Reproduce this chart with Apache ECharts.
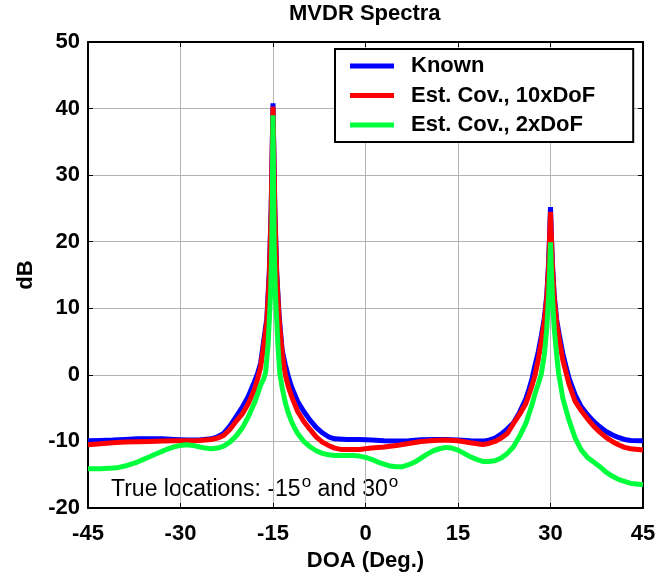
<!DOCTYPE html>
<html>
<head>
<meta charset="utf-8">
<script src="https://cdn.jsdelivr.net/npm/echarts@6/dist/echarts.min.js"></script>
<style>
  html, body { margin: 0; padding: 0; background: #fff; }
  #chart { width: 665px; height: 573px; }
</style>
</head>
<body>
<div id="chart"></div>
<script>
// DOA grid and spectra (dB)
var doaKnown = [-45, -43, -41, -39, -37, -35, -33, -31, -29, -27, -25, -24, -23, -22, -21, -20, -19, -18, -17.5, -17, -16.5, -16, -15.6, -15.3, -15.15, -15, -14.85, -14.7, -14.4, -14, -13.5, -13, -12.5, -12, -11, -10, -9, -8, -7, -6, -5, -3, -1, 1, 3, 5, 7, 9, 11, 13, 15, 17, 19, 20, 21, 22, 23, 24, 25, 26, 26.5, 27, 27.5, 28, 28.5, 29, 29.4, 29.7, 29.85, 30, 30.15, 30.3, 30.6, 31, 31.5, 32, 32.5, 33, 34, 35, 36, 37, 38, 39, 40, 41, 42, 43, 45];
var dbKnown = [-9.9, -9.85, -9.8, -9.7, -9.6, -9.6, -9.6, -9.7, -9.8, -9.8, -9.6, -9.3, -8.8, -7.7, -6.3, -4.9, -3.2, -1.0, 0.2, 1.8, 5.2, 8.5, 15.5, 25, 33, 40.8, 33, 25, 15.5, 8.8, 3.6, 1.5, -0.3, -1.8, -4.0, -5.5, -6.8, -7.9, -8.7, -9.3, -9.6, -9.7, -9.7, -9.8, -9.9, -9.95, -9.9, -9.75, -9.7, -9.7, -9.8, -9.9, -9.95, -9.8, -9.5, -8.9, -8.1, -7.2, -5.6, -3.6, -2.2, -0.6, 1.5, 3.4, 5.8, 8.5, 12, 17, 21, 25.2, 21, 17, 12, 8.3, 5.6, 3.2, 1.3, -0.5, -3.0, -4.8, -6.0, -7.0, -7.8, -8.5, -9.0, -9.4, -9.7, -9.85, -9.9];

var doaEst10 = [-45, -43, -41, -39, -37, -35, -33, -31, -29, -27, -25, -24, -23, -22, -21, -20, -19, -18, -17.5, -17, -16.5, -16, -15.6, -15.3, -15.15, -15, -14.85, -14.7, -14.4, -14, -13.5, -13, -12.5, -12, -11, -10, -9, -8, -7, -6, -5, -4, -3, -1, 1, 3, 5, 7, 9, 11, 13, 15, 17, 19, 20, 21, 22, 23, 24, 25, 26, 26.5, 27, 27.5, 28, 28.5, 29, 29.4, 29.7, 29.85, 30, 30.15, 30.3, 30.6, 31, 31.5, 32, 32.5, 33, 34, 35, 36, 37, 38, 39, 40, 41, 42, 43, 45];
var dbEst10 = [-10.5, -10.35, -10.2, -10.1, -10.05, -10.0, -9.95, -9.9, -9.9, -9.85, -9.7, -9.5, -9.1, -8.2, -7.0, -5.9, -4.3, -2.2, -0.6, 1.2, 4.5, 8, 15, 24.5, 32.5, 40.3, 32.5, 24.5, 15, 8.2, 3.2, 0, -1.8, -3.2, -5.5, -7.0, -8.2, -9.3, -10.1, -10.6, -11.0, -11.2, -11.2, -11.2, -11.0, -10.85, -10.6, -10.3, -10.0, -9.85, -9.8, -9.9, -10.2, -10.45, -10.3, -10.0, -9.5, -8.8, -7.3, -5.9, -4.3, -3.0, -1.6, 0, 2.2, 5, 8, 11.5, 16.5, 20.5, 24.5, 20.5, 16.5, 11.5, 7.8, 4.8, 2.2, 0.4, -1.4, -4.0, -5.4, -6.6, -7.7, -8.6, -9.4, -10.0, -10.5, -10.9, -11.1, -11.3];

var doaEst2 = [-45, -43, -41, -40, -39, -38, -37, -36, -35, -34, -33, -32, -31, -30, -29, -28, -27, -26, -25, -24, -23, -22, -21, -20, -19, -18, -17.5, -17, -16.5, -16.2, -15.8, -15.4, -15.2, -15.1, -15, -14.9, -14.8, -14.6, -14.2, -13.9, -13.5, -13, -12.5, -12, -11.5, -11, -10, -9, -8, -7, -6, -5, -3, -2, -1, 0, 1, 2, 3, 4, 5, 6, 7, 8, 9, 10, 11, 12, 13, 14, 15, 16, 17, 18, 19, 20, 21, 22, 23, 24, 25, 26, 26.5, 27, 27.5, 28, 28.5, 29, 29.4, 29.7, 29.85, 30, 30.15, 30.3, 30.6, 31, 31.3, 32, 32.5, 33, 34, 35, 36, 37, 38, 39, 40, 41, 42, 43, 44, 45];
var dbEst2 = [-14.1, -14.1, -14.0, -13.9, -13.7, -13.4, -13.1, -12.7, -12.3, -11.9, -11.5, -11.1, -10.8, -10.6, -10.5, -10.6, -10.8, -11.0, -11.1, -11.0, -10.7, -10.1, -9.2, -8.0, -6.3, -4.2, -2.9, -1.5, -0.6, 0.4, 4.5, 12, 19, 28, 39, 28, 19, 12, 4.5, 0.2, -2.0, -4.2, -5.8, -7.0, -8.0, -8.8, -10.0, -10.8, -11.4, -11.8, -12.0, -12.1, -12.1, -12.1, -12.2, -12.4, -12.7, -13.1, -13.4, -13.7, -13.8, -13.8, -13.5, -13.1, -12.5, -11.9, -11.4, -11.1, -10.9, -11.0, -11.3, -11.8, -12.3, -12.7, -13.0, -13.0, -12.9, -12.5, -11.8, -10.8, -9.2, -7.3, -5.9, -4.5, -2.8, -1.4, 0.1, 3.0, 7, 12, 15.5, 19.9, 15.5, 12, 7, 3.0, 0.3, -3.5, -5.2, -6.8, -9.5, -11.3, -12.4, -13.1, -13.8, -14.6, -15.2, -15.7, -16.0, -16.3, -16.4, -16.5];

var seriesNames = ['Known', 'Est. Cov., 10xDoF', 'Est. Cov., 2xDoF'];
var xTicks = [-45, 45, 15];   // min, max, step
var yTicks = [-20, 50, 10];

var font = "'Liberation Sans', Arial, Helvetica, sans-serif";

function pairs(xs, ys) {
  return xs.map(function (x, i) { return [x, ys[i]]; });
}

var myChart = echarts.init(document.getElementById('chart'));

var option = {
  animation: false,
  backgroundColor: '#fff',
  title: {
    text: 'MVDR Spectra',
    left: 289,
    top: 3,
    padding: 0,
    textStyle: { fontFamily: font, fontSize: 22, fontWeight: 'bold', color: '#000' }
  },
  legend: {
    data: seriesNames,
    orient: 'vertical',
    align: 'left',
    left: 335,
    top: 49,
    padding: [6, 38, 6, 15],
    itemGap: 7.5,
    itemWidth: 44,
    itemHeight: 5,
    icon: 'rect',
    borderColor: '#000',
    borderWidth: 2,
    backgroundColor: '#fff',
    textStyle: { fontFamily: font, fontSize: 22, fontWeight: 'bold', color: '#000', lineHeight: 22, padding: [0, 0, 0, 12] }
  },
  grid: { left: 88, right: 22, top: 42, bottom: 65, outerBoundsMode: 'none' },
  xAxis: [{
    type: 'value',
    min: xTicks[0], max: xTicks[1], interval: xTicks[2],
    name: 'DOA (Deg.)',
    nameLocation: 'middle',
    nameGap: 39,
    nameTextStyle: { fontFamily: font, fontSize: 22, fontWeight: 'bold', color: '#000' },
    axisLine: { onZero: false, lineStyle: { color: '#000', width: 2 } },
    axisTick: { inside: true, length: 5, lineStyle: { color: '#000', width: 1 } },
    axisLabel: { margin: 15, fontFamily: font, fontSize: 22, fontWeight: 'bold', color: '#000', showMinLabel: true, showMaxLabel: true },
    splitLine: { show: true, lineStyle: { color: '#b4b4b4', width: 1 } }
  }, {
    type: 'value', position: 'top',
    min: xTicks[0], max: xTicks[1], interval: xTicks[2],
    axisLine: { onZero: false, lineStyle: { color: '#000', width: 2 } },
    axisTick: { inside: true, length: 5, lineStyle: { color: '#000', width: 1 } },
    axisLabel: { show: false },
    splitLine: { show: false }
  }],
  yAxis: [{
    type: 'value',
    min: yTicks[0], max: yTicks[1], interval: yTicks[2],
    name: 'dB',
    nameLocation: 'middle',
    nameRotate: 90,
    nameGap: 47,
    nameTextStyle: { fontFamily: font, fontSize: 22, fontWeight: 'bold', color: '#000' },
    axisLine: { show: true, onZero: false, lineStyle: { color: '#000', width: 2 } },
    axisTick: { show: true, inside: true, length: 5, lineStyle: { color: '#000', width: 1 } },
    axisLabel: { margin: 8, fontFamily: font, fontSize: 22, fontWeight: 'bold', color: '#000' },
    splitLine: { show: true, lineStyle: { color: '#b4b4b4', width: 1 } }
  }, {
    type: 'value', position: 'right',
    min: yTicks[0], max: yTicks[1], interval: yTicks[2],
    axisLine: { show: true, onZero: false, lineStyle: { color: '#000', width: 2 } },
    axisTick: { show: true, inside: true, length: 5, lineStyle: { color: '#000', width: 1 } },
    axisLabel: { show: false },
    splitLine: { show: false }
  }],
  graphic: [{
    type: 'text',
    x: 111,
    y: 490,
    style: {
      text: '{n|True locations: -15}{sup|o}{n| and 30}{sup|o}',
      font: '23px ' + font,
      fill: '#000',
      verticalAlign: 'middle',
      rich: {
        n: { fontSize: 23, fontFamily: font, fill: '#000', lineHeight: 23 },
        sup: { fontSize: 17, fontFamily: font, fill: '#000', lineHeight: 17, padding: [0, 0, 15, 1] }
      }
    }
  }],
  series: [{
    name: seriesNames[0],
    type: 'line',
    symbol: 'none',
    data: pairs(doaKnown, dbKnown),
    lineStyle: { color: '#0000ff', width: 5 },
    itemStyle: { color: '#0000ff' }
  }, {
    name: seriesNames[1],
    type: 'line',
    symbol: 'none',
    data: pairs(doaEst10, dbEst10),
    lineStyle: { color: '#ff0000', width: 5 },
    itemStyle: { color: '#ff0000' }
  }, {
    name: seriesNames[2],
    type: 'line',
    symbol: 'none',
    data: pairs(doaEst2, dbEst2),
    lineStyle: { color: '#00ff3c', width: 5 },
    itemStyle: { color: '#00ff3c' }
  }]
};

myChart.setOption(option);
</script>
</body>
</html>
